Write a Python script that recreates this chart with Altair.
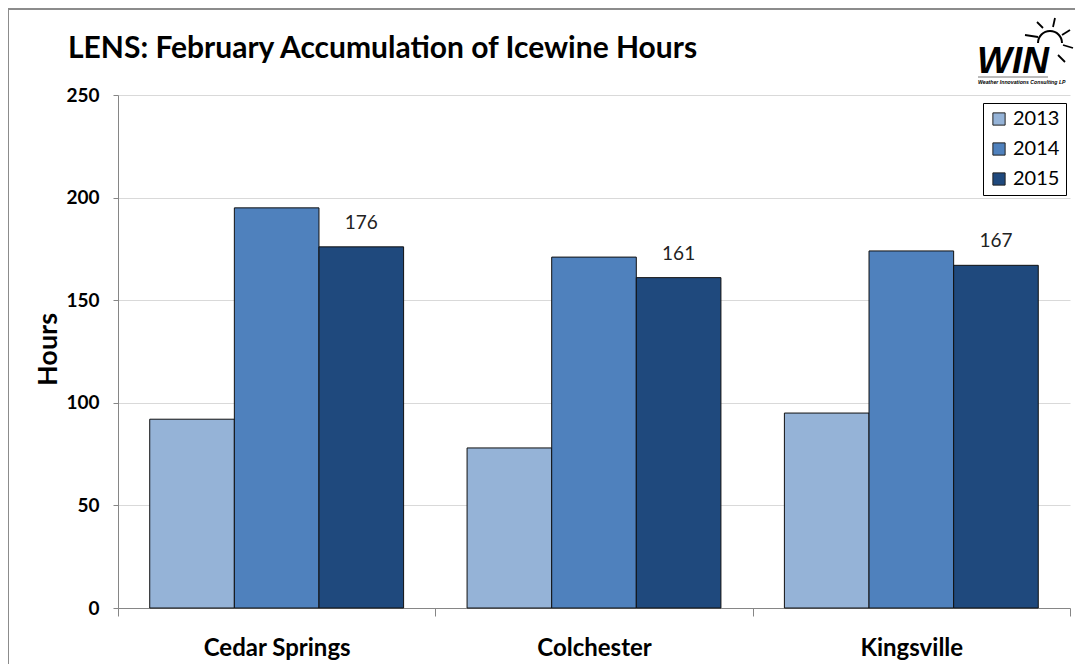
import altair as alt
import pandas as pd

sites = ["Cedar Springs", "Colchester", "Kingsville"]
years = ["2013", "2014", "2015"]
v2013 = [92, 78, 95]
v2014 = [195, 171, 174]
v2015 = [176, 161, 167]
colors = ["#95B3D7", "#4F81BD", "#1F497D"]
title_text = "LENS: February Accumulation of Icewine Hours"

rows = []
for i, s in enumerate(sites):
    for y, vals in zip(years, [v2013, v2014, v2015]):
        rows.append({"site": s, "year": y, "hours": vals[i]})
df = pd.DataFrame(rows)
lab = df[df["year"] == "2015"]

FONT = "Lato"

xscale = alt.Scale(domain=sites, paddingInner=0, paddingOuter=0)
oscale = alt.Scale(domain=years, paddingInner=0, paddingOuter=0.375)

xenc = alt.X("site:N", sort=sites, title=None, scale=xscale,
             axis=alt.Axis(labelFont=FONT, labelFontSize=24, labelFontWeight="bold",
                           labelColor="#000", labelAngle=0, labelPadding=20,
                           tickBand="extent", tickSize=8, tickColor="#868686",
                           domainColor="#868686", grid=False))
yenc = alt.Y("hours:Q", title="Hours",
             scale=alt.Scale(domain=[0, 250], nice=False),
             axis=alt.Axis(values=[0, 50, 100, 150, 200, 250], labelFont=FONT,
                           labelFontSize=19, labelFontWeight="bold", labelColor="#000",
                           labelPadding=14, tickSize=5, tickColor="#868686",
                           domainColor="#868686", gridColor="#D9D9D9",
                           titleFont=FONT, titleFontSize=27, titleFontWeight="bold",
                           titleColor="#000", titleX=-56, titleY=254))

bars = alt.Chart(df).mark_bar(stroke="#111", strokeWidth=1).encode(
    x=xenc, y=yenc,
    xOffset=alt.XOffset("year:N", sort=years, scale=oscale),
    color=alt.Color("year:N", sort=years,
                    scale=alt.Scale(domain=years, range=colors),
                    legend=alt.Legend(title=None, orient="none", legendX=865, legendY=8,
                                      strokeColor="#000", fillColor="#fff", padding=6,
                                      symbolType="square", symbolSize=150,
                                      symbolStrokeColor="#222", symbolStrokeWidth=1,
                                      labelFont=FONT, labelFontSize=20, labelColor="#000",
                                      rowPadding=10, symbolOpacity=1)),
)

labels = alt.Chart(lab).mark_text(font=FONT, fontSize=19, color="#222", dy=-14,
                                  baseline="bottom").encode(
    x=alt.X("site:N", sort=sites, scale=xscale),
    y="hours:Q",
    xOffset=alt.XOffset("year:N", sort=years, scale=oscale),
    text="hours:Q",
)

frame = alt.Chart(pd.DataFrame({"a": [0]})).mark_rect(
    fill=None, stroke="#8c8c8c", strokeWidth=2).encode(
    x=alt.value(-110), x2=alt.value(1000), y=alt.value(-86), y2=alt.value(600))

title = alt.Chart(pd.DataFrame({"t": [title_text]})).mark_text(
    font=FONT, fontSize=30, fontWeight="bold", color="#000", align="left",
    baseline="alphabetic").encode(x=alt.value(-50), y=alt.value(-37), text="t:N")

logo = alt.Chart(pd.DataFrame({"t": ["WIN"]})).mark_text(
    font="Liberation Sans", fontSize=37, fontWeight="bold", fontStyle="italic",
    color="#000", align="left", baseline="alphabetic").encode(
    x=alt.value(859), y=alt.value(-22), text="t:N")
logo_line = alt.Chart(pd.DataFrame({"a": [0]})).mark_rule(
    stroke="#777", strokeWidth=1).encode(
    x=alt.value(860), x2=alt.value(930), y=alt.value(-18))
logo2 = alt.Chart(pd.DataFrame({"t": ["Weather Innovations Consulting LP"]})).mark_text(
    font="Liberation Sans", fontSize=5.2, fontStyle="italic", fontWeight="bold",
    color="#000", align="left", baseline="middle").encode(
    x=alt.value(860), y=alt.value(-13), text="t:N")
sun = alt.Chart(pd.DataFrame({"a": [0]})).mark_arc(
    radius=13, radius2=11, theta=4.71, theta2=7.85, color="#000").encode(
    x=alt.value(932), y=alt.value(-52))
ray_x = [907, 919, 937, 952, 955, 947]
ray_y = [-60, -73, -77, -65, -47, -33]
ray_x2 = [920, 925, 935, 944, 945, 940]
ray_y2 = [-58, -67, -68, -60, -50, -40]
rays = alt.Chart(pd.DataFrame({"x": ray_x, "y": ray_y, "x2": ray_x2, "y2": ray_y2})).mark_rule(
    stroke="#000", strokeWidth=1.8).encode(
    x=alt.X("x:Q", scale=None), y=alt.Y("y:Q", scale=None),
    x2="x2:Q", y2="y2:Q")

chart = alt.layer(frame, bars, labels, title, sun, rays, logo, logo_line, logo2).properties(
    width=952, height=513,
    autosize=alt.AutoSizeParams(type="none"),
    padding={"left": 110, "top": 87, "right": 5, "bottom": 56},
).configure_view(stroke=None)

chart.save("out.html", embed_options={"renderer": "svg", "actions": False})
